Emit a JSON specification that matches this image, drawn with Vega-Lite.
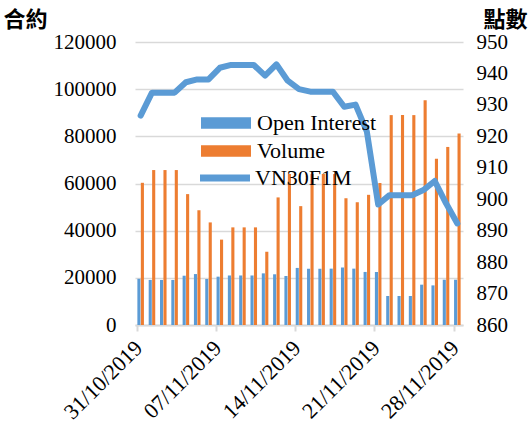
{
  "$schema": "https://vega.github.io/schema/vega-lite/v6.json",
  "autosize": "none",
  "width": 328,
  "height": 283,
  "padding": {"left": 135, "top": 42, "right": 68, "bottom": 105},
  "background": "white",
  "config": {"view": {"stroke": null}, "font": "Liberation Serif"},
  "data": {
    "values": [
      {"date": "31/10/2019", "oi": 19600, "vol": 60300, "vn30": 926.6},
      {"date": "01/11/2019", "oi": 19100, "vol": 65700, "vn30": 933.9},
      {"date": "02/11/2019", "oi": 19100, "vol": 65700, "vn30": 933.9},
      {"date": "03/11/2019", "oi": 19100, "vol": 65700, "vn30": 933.9},
      {"date": "04/11/2019", "oi": 20900, "vol": 55500, "vn30": 937.2},
      {"date": "05/11/2019", "oi": 21600, "vol": 48700, "vn30": 938.1},
      {"date": "06/11/2019", "oi": 19500, "vol": 43500, "vn30": 938.1},
      {"date": "07/11/2019", "oi": 20500, "vol": 36200, "vn30": 941.8},
      {"date": "08/11/2019", "oi": 21000, "vol": 41400, "vn30": 942.7},
      {"date": "09/11/2019", "oi": 21000, "vol": 41400, "vn30": 942.7},
      {"date": "10/11/2019", "oi": 21000, "vol": 41400, "vn30": 942.7},
      {"date": "11/11/2019", "oi": 21900, "vol": 31100, "vn30": 939.3},
      {"date": "12/11/2019", "oi": 21500, "vol": 54100, "vn30": 942.9},
      {"date": "13/11/2019", "oi": 20800, "vol": 64000, "vn30": 937.7},
      {"date": "14/11/2019", "oi": 24200, "vol": 50400, "vn30": 935.0},
      {"date": "15/11/2019", "oi": 23900, "vol": 64000, "vn30": 934.2},
      {"date": "16/11/2019", "oi": 23900, "vol": 64000, "vn30": 934.2},
      {"date": "17/11/2019", "oi": 23900, "vol": 64000, "vn30": 934.2},
      {"date": "18/11/2019", "oi": 24400, "vol": 53700, "vn30": 929.4},
      {"date": "19/11/2019", "oi": 23900, "vol": 52100, "vn30": 930.1},
      {"date": "20/11/2019", "oi": 22500, "vol": 55200, "vn30": 921.5},
      {"date": "21/11/2019", "oi": 22500, "vol": 60200, "vn30": 898.3},
      {"date": "22/11/2019", "oi": 12300, "vol": 89000, "vn30": 901.3},
      {"date": "23/11/2019", "oi": 12300, "vol": 89000, "vn30": 901.3},
      {"date": "24/11/2019", "oi": 12300, "vol": 89000, "vn30": 901.3},
      {"date": "25/11/2019", "oi": 17100, "vol": 95300, "vn30": 902.9},
      {"date": "26/11/2019", "oi": 16800, "vol": 70500, "vn30": 905.8},
      {"date": "27/11/2019", "oi": 19200, "vol": 75500, "vn30": 898.7},
      {"date": "28/11/2019", "oi": 19200, "vol": 81200, "vn30": 892.3}
    ]
  },
  "layer": [
    {
      "transform": [{"fold": ["oi", "vol"], "as": ["series", "value"]}],
      "mark": {"type": "bar"},
      "encoding": {
        "x": {
          "field": "date", "type": "ordinal", "sort": null,
          "scale": {"paddingInner": 0.42, "paddingOuter": 0.21},
          "axis": {
            "values": ["31/10/2019", "07/11/2019", "14/11/2019", "21/11/2019", "28/11/2019"],
            "bandPosition": 0,
            "labelAngle": -45,
            "labelFontSize": 22,
            "labelFont": "Liberation Serif",
            "labelColor": "black",
            "labelPadding": 6,
            "labelOffset": -9,
            "domainColor": "#d9d9d9",
            "domainWidth": 2,
            "tickColor": "#d9d9d9",
            "tickWidth": 2,
            "tickSize": 6,
            "grid": false,
            "title": null
          }
        },
        "xOffset": {"field": "series", "type": "nominal", "scale": {"paddingInner": 0.1}},
        "y": {
          "field": "value", "type": "quantitative",
          "scale": {"domain": [0, 120000], "nice": false},
          "axis": {
            "values": [0, 20000, 40000, 60000, 80000, 100000, 120000],
            "format": "d",
            "grid": true, "gridColor": "#d9d9d9", "gridWidth": 1.5,
            "domain": false, "ticks": false,
            "labelFontSize": 21, "labelFont": "Liberation Serif", "labelColor": "black", "labelPadding": 19,
            "title": "合約", "titleAngle": 0, "titleX": -132, "titleY": -16,
            "titleAlign": "left", "titleBaseline": "alphabetic",
            "titleFont": "Noto Sans CJK TC", "titleFontSize": 22, "titleFontWeight": "bold", "titleColor": "black"
          }
        },
        "fill": {
          "field": "series", "type": "nominal",
          "scale": {"domain": ["oi", "vol"], "range": ["#5B9BD5", "#ED7D31"]},
          "legend": {
            "orient": "none", "legendX": 80, "legendY": 70, "title": null,
            "symbolType": "M-4,-0.92H4V0.92H-4Z", "symbolSize": 156.25, "symbolStrokeWidth": 0,
            "labelFontSize": 22, "labelFont": "Liberation Serif", "labelColor": "black",
            "labelOffset": 20, "rowPadding": 6, "padding": 0,
            "labelExpr": "datum.label == 'oi' ? 'Open Interest' : 'Volume'"
          }
        }
      }
    },
    {
      "mark": {"type": "line", "strokeWidth": 6, "strokeJoin": "round", "strokeCap": "round"},
      "encoding": {
        "x": {"field": "date", "type": "ordinal", "sort": null},
        "y": {
          "field": "vn30", "type": "quantitative",
          "scale": {"domain": [860, 950], "nice": false, "zero": false},
          "axis": {
            "orient": "right",
            "values": [860, 870, 880, 890, 900, 910, 920, 930, 940, 950],
            "grid": false, "domain": false, "ticks": false,
            "labelFontSize": 21, "labelFont": "Liberation Serif", "labelColor": "black", "labelPadding": 13,
            "title": "點數", "titleAngle": 0, "titleX": 20, "titleY": -16,
            "titleAlign": "left", "titleBaseline": "alphabetic",
            "titleFont": "Noto Sans CJK TC", "titleFontSize": 22, "titleFontWeight": "bold", "titleColor": "black"
          }
        },
        "stroke": {
          "datum": "VN30F1M", "type": "nominal",
          "scale": {"range": ["#5B9BD5"]},
          "legend": {
            "orient": "none", "legendX": 79, "legendY": 125, "title": null,
            "symbolType": "M-4,0H4", "symbolSize": 156.25, "symbolStrokeWidth": 7,
            "labelFontSize": 22, "labelFont": "Liberation Serif", "labelColor": "black",
            "labelOffset": 19, "padding": 0
          }
        }
      }
    }
  ],
  "resolve": {"scale": {"y": "independent"}}
}
